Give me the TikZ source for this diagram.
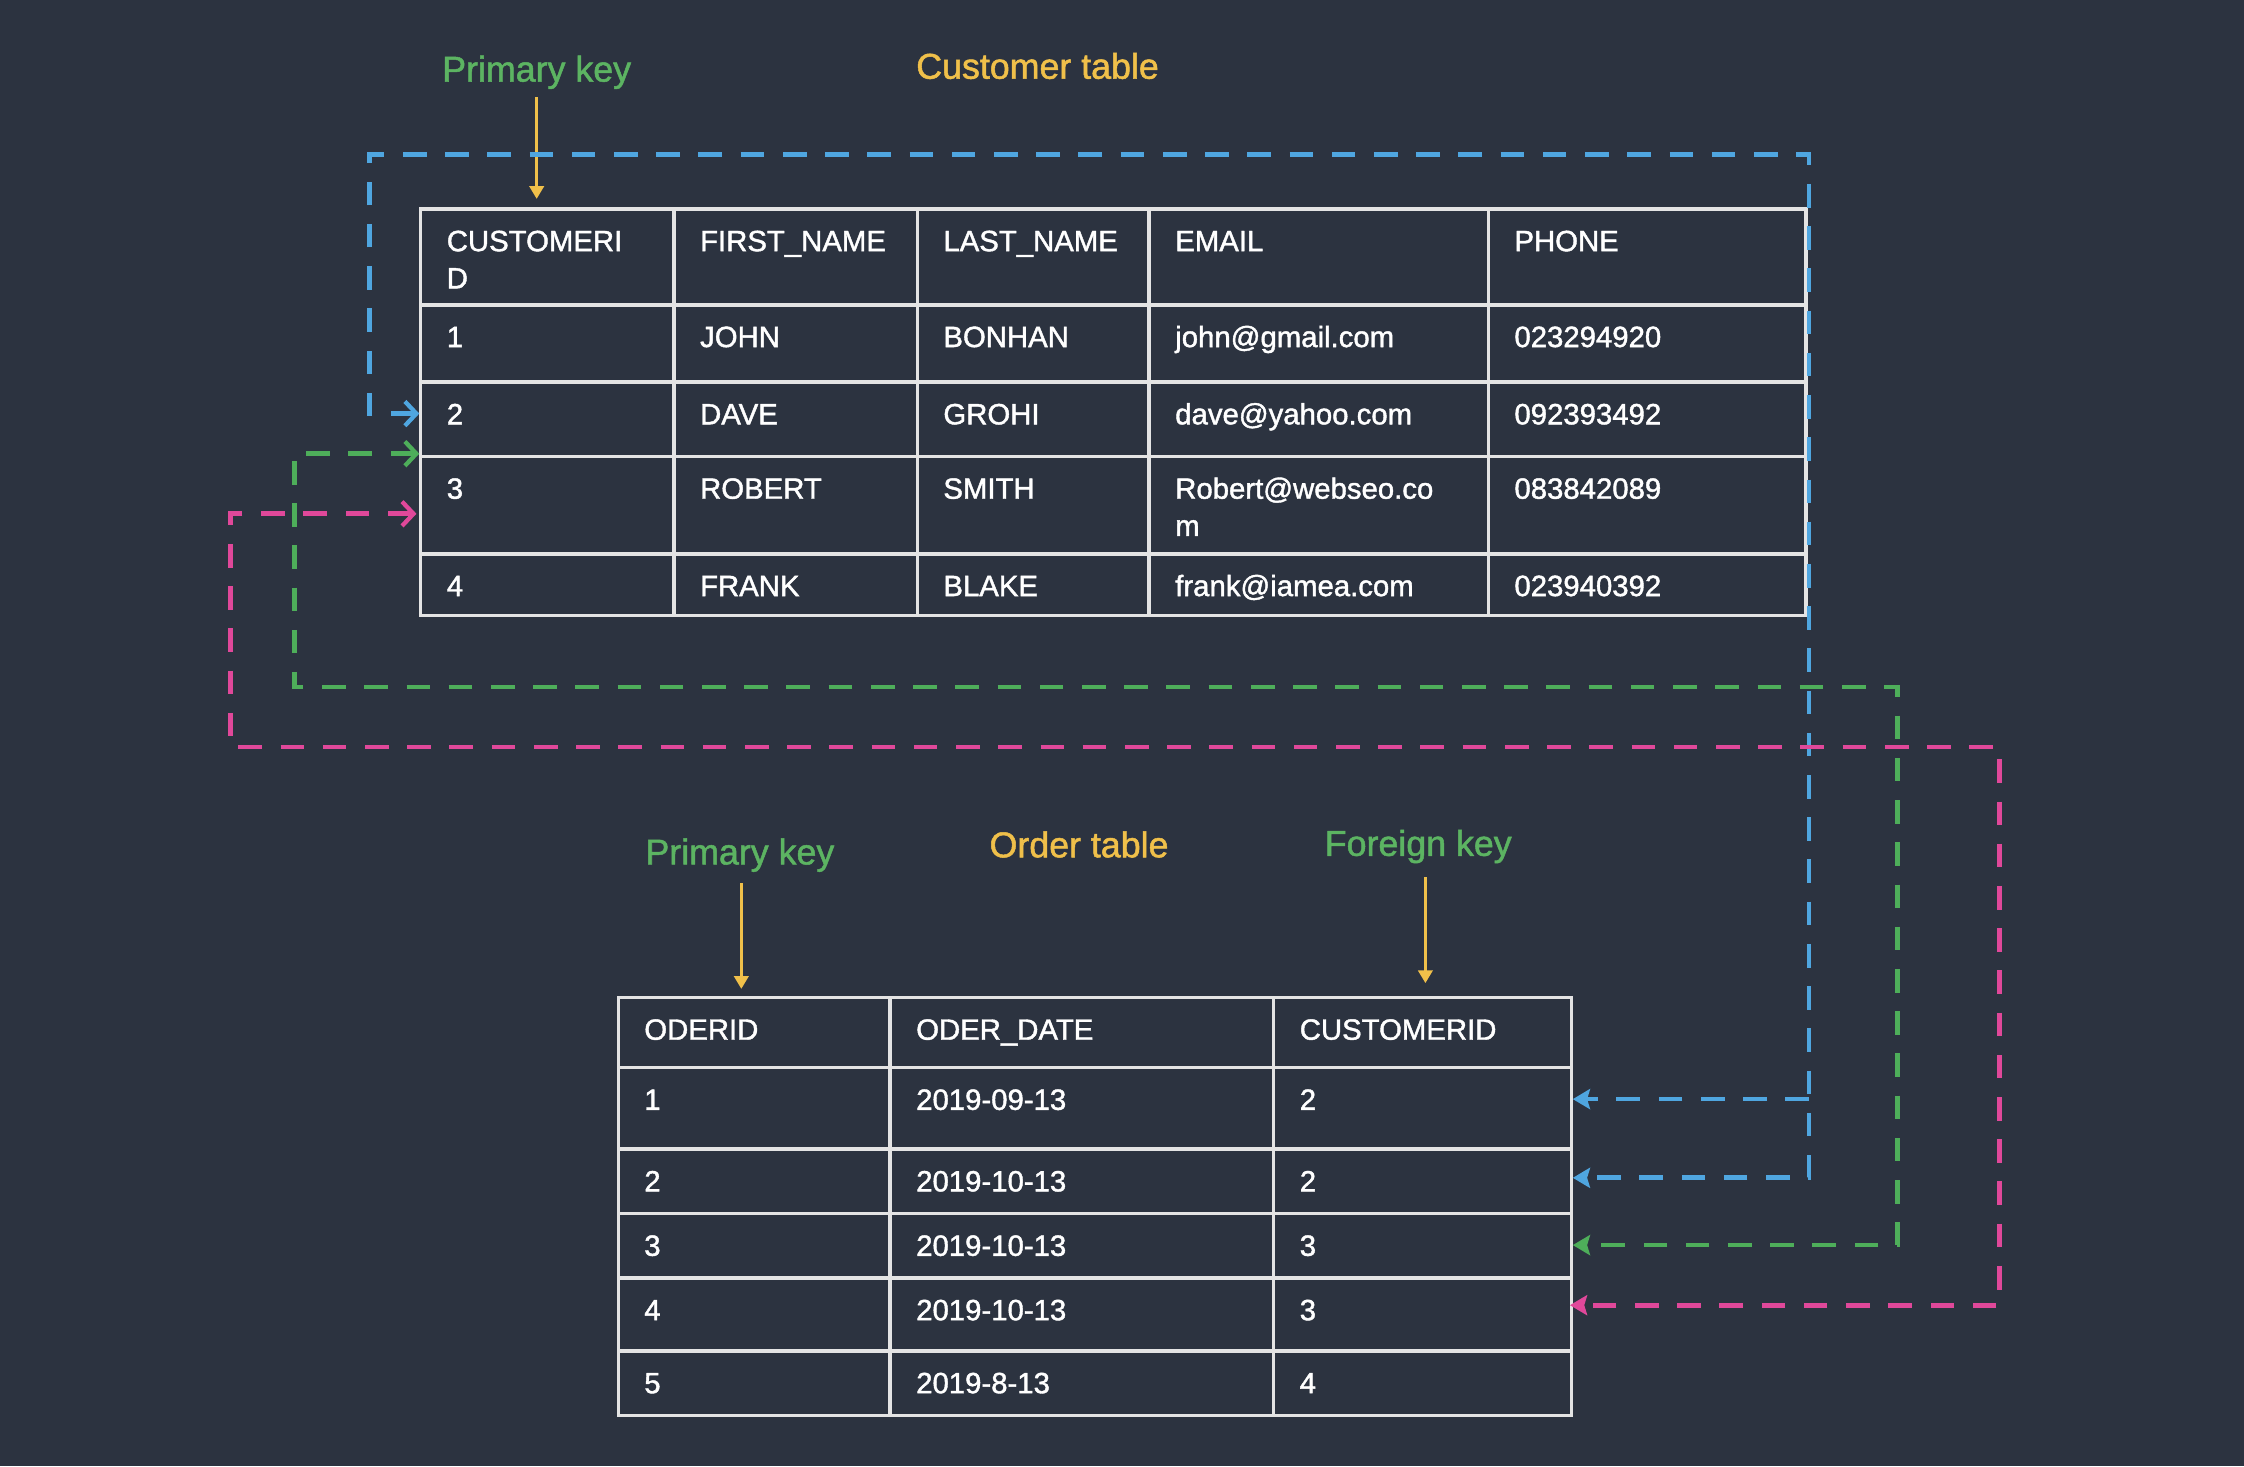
\documentclass[tikz,border=0pt]{standalone}
\usepackage{fontspec}
\setmainfont{Liberation Sans}
\newfontfamily\heavyfont{Liberation Sans}[FakeBold=1.4]
\usetikzlibrary{arrows.meta}
\definecolor{bgc}{HTML}{2C3340}
\definecolor{gridc}{HTML}{E4E4E4}
\definecolor{keyc}{HTML}{5CB462}
\definecolor{titlec}{HTML}{F0C04A}
\definecolor{bluec}{HTML}{4FA6E0}
\definecolor{greenc}{HTML}{4EAE5A}
\definecolor{pinkc}{HTML}{E0489A}
\tikzset{
  celltxt/.style={anchor=base west, inner sep=0pt, text=white, font=\heavyfont\fontsize{20.5}{26}\selectfont, align=left},
  keylbl/.style={anchor=base, inner sep=0pt, text=keyc, font=\heavyfont\fontsize{25}{30}\selectfont},
  titlelbl/.style={anchor=base, inner sep=0pt, text=titlec, font=\heavyfont\fontsize{25}{30}\selectfont},
  gridline/.style={draw=gridc, line width=2.4pt},
  ptr/.style={draw=titlec, line width=2.4pt, -{Triangle[length=9pt,width=10pt]}},
  link/.style={line width=3.3pt, dash pattern=on 16.5pt off 13pt, {Straight Barb[length=8pt,width=17pt,line width=3pt]}-{Stealth[length=12pt,width=14pt,inset=2pt]}},
  branch/.style={line width=3.3pt, dash pattern=on 16.5pt off 13pt, -{Stealth[length=12pt,width=14pt,inset=2pt]}}
}
\begin{document}
\begin{tikzpicture}[x=1pt,y=-1pt]
\fill[bgc] (0,0) rectangle (1568,1024.4);
\useasboundingbox (0,0) rectangle (1568,1024.4);

% ---------- labels ----------
\node[keylbl] (pk1) at (375,57) {Primary key};
\node[titlelbl] (ttl1) at (725,55) {Customer table};
\node[keylbl] (pk2) at (517,604) {Primary key};
\node[titlelbl] (ttl2) at (754,599) {Order table};
\node[keylbl] (fk) at (991,598) {Foreign key};

\coordinate (pk1a) at (375,68);  \coordinate (pk1b) at (375,139);
\coordinate (pk2a) at (518,617); \coordinate (pk2b) at (518,691);
\coordinate (fka) at (996,613);  \coordinate (fkb) at (996,687);
\draw[ptr] (pk1a) -- (pk1b);
\draw[ptr] (pk2a) -- (pk2b);
\draw[ptr] (fka) -- (fkb);

% ---------- customer table ----------
\path[gridline] (294,146) rectangle (1262,430);
\foreach \x in {471,641,803,1040} \path[gridline] (\x,146) -- (\x,430);
\foreach \y in {213,267,319,387} \path[gridline] (294,\y) -- (1262,\y);

\node[celltxt] (ch1) at (312,201.5) {CUSTOMERI\\D};
\node[celltxt] (ch2) at (489,175.5) {FIRST\_NAME};
\node[celltxt] (ch3) at (659,175.5) {LAST\_NAME};
\node[celltxt] (ch4) at (821,175.5) {EMAIL};
\node[celltxt] (ch5) at (1058,175.5) {PHONE};

\node[celltxt] (c11) at (312,242.5) {1};
\node[celltxt] (c12) at (489,242.5) {JOHN};
\node[celltxt] (c13) at (659,242.5) {BONHAN};
\node[celltxt] (c14) at (821,242.5) {john@gmail.com};
\node[celltxt] (c15) at (1058,242.5) {023294920};

\node[celltxt] (c21) at (312,296.5) {2};
\node[celltxt] (c22) at (489,296.5) {DAVE};
\node[celltxt] (c23) at (659,296.5) {GROHI};
\node[celltxt] (c24) at (821,296.5) {dave@yahoo.com};
\node[celltxt] (c25) at (1058,296.5) {092393492};

\node[celltxt] (c31) at (312,348.5) {3};
\node[celltxt] (c32) at (489,348.5) {ROBERT};
\node[celltxt] (c33) at (659,348.5) {SMITH};
\node[celltxt] (c34) at (821,374.5) {Robert@webseo.co\\m};
\node[celltxt] (c35) at (1058,348.5) {083842089};

\node[celltxt] (c41) at (312,416.5) {4};
\node[celltxt] (c42) at (489,416.5) {FRANK};
\node[celltxt] (c43) at (659,416.5) {BLAKE};
\node[celltxt] (c44) at (821,416.5) {frank@iamea.com};
\node[celltxt] (c45) at (1058,416.5) {023940392};

% ---------- order table ----------
\path[gridline] (432,697) rectangle (1098,989);
\foreach \x in {622,890} \path[gridline] (\x,697) -- (\x,989);
\foreach \y in {746,803,848,893,944} \path[gridline] (432,\y) -- (1098,\y);

\node[celltxt] (oh1) at (450,726.5) {ODERID};
\node[celltxt] (oh2) at (640,726.5) {ODER\_DATE};
\node[celltxt] (oh3) at (908,726.5) {CUSTOMERID};

\node[celltxt] (o11) at (450,775.5) {1};
\node[celltxt] (o12) at (640,775.5) {2019-09-13};
\node[celltxt] (o13) at (908,775.5) {2};
\node[celltxt] (o21) at (450,832.5) {2};
\node[celltxt] (o22) at (640,832.5) {2019-10-13};
\node[celltxt] (o23) at (908,832.5) {2};
\node[celltxt] (o31) at (450,877.5) {3};
\node[celltxt] (o32) at (640,877.5) {2019-10-13};
\node[celltxt] (o33) at (908,877.5) {3};
\node[celltxt] (o41) at (450,922.5) {4};
\node[celltxt] (o42) at (640,922.5) {2019-10-13};
\node[celltxt] (o43) at (908,922.5) {3};
\node[celltxt] (o51) at (450,973.5) {5};
\node[celltxt] (o52) at (640,973.5) {2019-8-13};
\node[celltxt] (o53) at (908,973.5) {4};

% ---------- links ----------
\coordinate (cin2) at (293,289);
\coordinate (cin3) at (293,317);
\coordinate (cin3b) at (291,359);
\coordinate (oin1) at (1099,768);
\coordinate (oin2) at (1099,823);
\coordinate (oin3) at (1099,870);
\coordinate (oin4) at (1097,912);
\coordinate (bj) at (1264,768);

\draw[link, bluec] (cin2) -- (258,289) -- (258,108) -- (1264,108) -- (1264,823) -- (oin2);
\draw[branch, bluec] (bj) -- (oin1);
\draw[link, greenc] (cin3) -- (206,317) -- (206,480) -- (1326,480) -- (1326,870) -- (oin3);
\draw[link, pinkc] (cin3b) -- (161,359) -- (161,522) -- (1397,522) -- (1397,912) -- (oin4);
\end{tikzpicture}
\end{document}
